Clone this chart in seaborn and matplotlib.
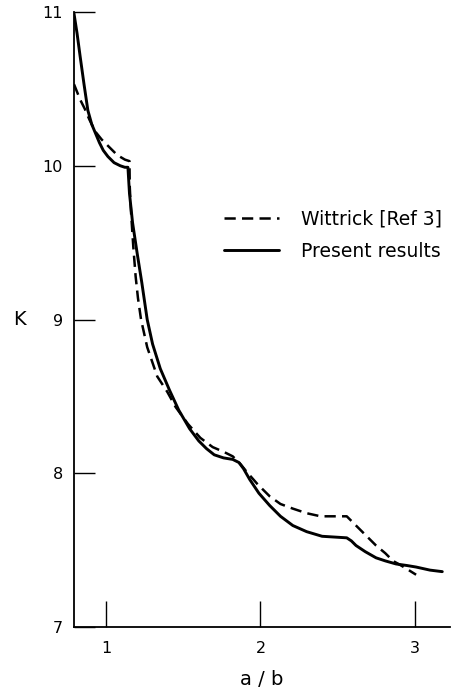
import matplotlib
matplotlib.use("Agg")
import matplotlib.pyplot as plt
import seaborn as sns
import pandas as pd

# Data
present_x = [0.79, 0.81, 0.83, 0.855, 0.88, 0.905, 0.93, 0.955, 0.98, 1.01, 1.05, 1.09, 1.12, 1.14,
             1.15, 1.17, 1.20, 1.23, 1.265, 1.30, 1.35, 1.41, 1.47, 1.54, 1.60, 1.65, 1.70,
             1.76, 1.82, 1.86, 1.89, 1.93, 1.99, 2.06, 2.13, 2.21, 2.30, 2.40,
             2.56, 2.59, 2.62, 2.68, 2.75, 2.81, 2.88, 2.95, 3.01, 3.10, 3.18]
present_y = [10.99, 10.86, 10.71, 10.53, 10.36, 10.27, 10.21, 10.15, 10.10, 10.06, 10.02, 10.00, 9.99, 9.99,
             9.82, 9.63, 9.43, 9.24, 9.00, 8.84, 8.68, 8.54, 8.41, 8.29, 8.21, 8.16, 8.12,
             8.10, 8.09, 8.07, 8.03, 7.96, 7.87, 7.79, 7.72, 7.66, 7.62, 7.59,
             7.58, 7.56, 7.53, 7.49, 7.45, 7.43, 7.41, 7.40, 7.39, 7.37, 7.36]

wittrick_x = [0.79, 0.81, 0.83, 0.86, 0.89, 0.93, 0.97, 1.02, 1.07, 1.12, 1.15, 1.152, 1.16, 1.175,
              1.19, 1.205, 1.225, 1.265, 1.33, 1.395, 1.45, 1.53, 1.61, 1.69, 1.76, 1.82,
              1.87, 1.91, 1.98, 2.06, 2.13, 2.21, 2.30, 2.39, 2.56, 2.60, 2.68, 2.75,
              2.81, 2.86, 2.93, 3.01]
wittrick_y = [10.53, 10.48, 10.43, 10.37, 10.30, 10.22, 10.17, 10.12, 10.07, 10.04, 10.03, 9.86, 9.70, 9.47,
              9.28, 9.14, 9.00, 8.82, 8.63, 8.53, 8.43, 8.32, 8.23, 8.17, 8.14, 8.11,
              8.06, 8.01, 7.93, 7.85, 7.80, 7.77, 7.74, 7.72, 7.72, 7.68, 7.60, 7.53,
              7.48, 7.43, 7.39, 7.34]

series_labels = ["Wittrick [Ref 3]", "Present results"]
x_ticks = [1, 2, 3]
y_ticks = [7, 8, 9, 10, 11]

sns.set_style("white")
plt.rcParams['font.family'] = ['DejaVu Sans']
plt.rcParams['text.color'] = 'black'
plt.rcParams['axes.labelcolor'] = 'black'

df_w = pd.DataFrame({"x": wittrick_x, "y": wittrick_y})
df_p = pd.DataFrame({"x": present_x, "y": present_y})

fig = plt.figure(figsize=(4.63, 6.93), dpi=100)
ax = fig.add_axes([74/463, 66/693, (450-74)/463, (627-12)/693])

sns.lineplot(data=df_w, x="x", y="y", ax=ax, color="black", sort=False,
             estimator=None, linewidth=1.8, label=series_labels[0])
ax.lines[-1].set_dashes((4.5, 2.5))
sns.lineplot(data=df_p, x="x", y="y", ax=ax, color="black", sort=False,
             estimator=None, linewidth=2.1, label=series_labels[1])
for ln in ax.lines:
    ln.set_solid_joinstyle("round")
    ln.set_dash_joinstyle("round")

ax.set_xlim(0.79, 3.23)
ax.set_ylim(7, 11)
ax.set_xticks(x_ticks)
ax.set_yticks(y_ticks)
ax.set_xticklabels([str(v) for v in x_ticks])
ax.set_yticklabels([str(v) for v in y_ticks])
for s in ["top", "right"]:
    ax.spines[s].set_visible(False)
for s in ["left", "bottom"]:
    ax.spines[s].set_linewidth(1.3)
    ax.spines[s].set_color("black")
ax.tick_params(axis="x", bottom=True, direction="in", length=19, width=1.0, pad=10,
               labelsize=11.5, colors="black")
ax.tick_params(axis="y", left=True, direction="in", length=15, width=1.0, pad=8,
               labelsize=11.5, colors="black")

ax.set_xlabel("a / b", fontsize=14, labelpad=10, color="black")
ax.set_ylabel("K", fontsize=14, rotation=0, va="center", color="black")
ax.yaxis.set_label_coords(-0.145, 0.50)

leg = ax.legend(loc="center left", bbox_to_anchor=(0.40, 0.637), frameon=False,
                fontsize=13.5, handlelength=2.9, handletextpad=1.2,
                labelspacing=0.7, borderpad=0, borderaxespad=0)
for t in leg.get_texts():
    t.set_color("black")

fig.savefig("out.png", dpi=100)
